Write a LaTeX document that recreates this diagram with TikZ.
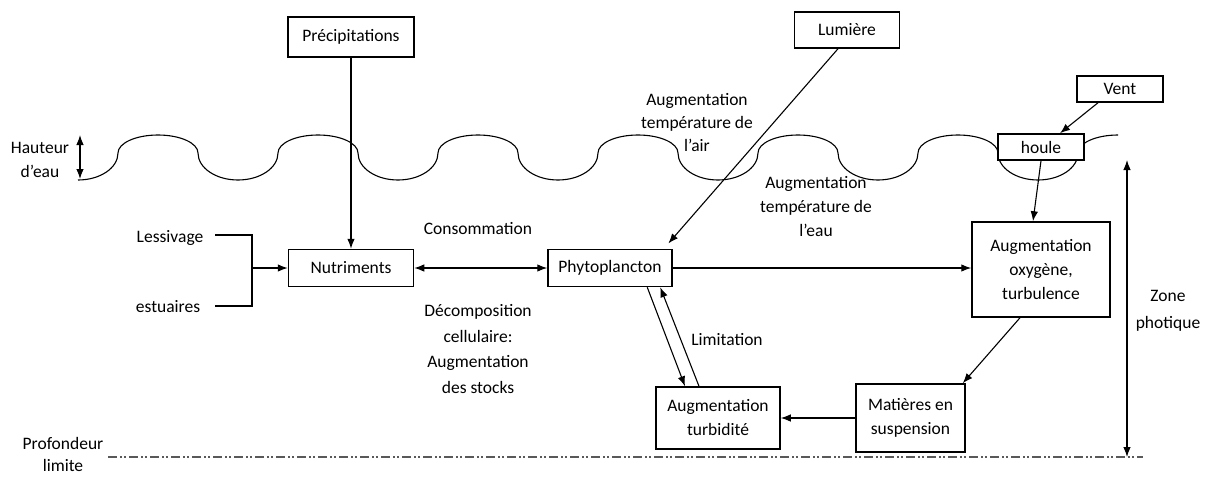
\documentclass[tikz,border=0pt]{standalone}
\usepackage{fontspec}
\setmainfont{Carlito}
\usepackage{tikz}
\usetikzlibrary{arrows.meta}

\begin{document}
\begin{tikzpicture}[x=1pt,y=-1pt,>={Latex[length=10pt,width=7.5pt]},
    font=\fontsize{17.5}{24}\selectfont,
    boite/.style={draw,line width=1.5pt,fill=white,align=center,inner sep=0pt},
    fleche/.style={->,line width=1.1pt},
    texte/.style={align=center,inner sep=0pt}]
            \useasboundingbox (0,0) rectangle (1205,477);
            % surface de l'eau
            \draw[line width=1.1pt] (78,180) arc (90:0:40 and 27)
                \foreach \i in {1,...,6}{ arc (180:360:40 and 18) arc (180:0:40 and 27)}
                arc (180:270:40 and 18);
            \draw[<->,line width=1.1pt] (80,135)--(80,179);
            \node[texte] (haut) at (40,160) {Hauteur\\d'eau};
            % profondeur limite
            \draw[line width=1.2pt,gray!70!black,dash pattern=on 9pt off 3pt on 2pt off 2pt on 2pt off 3pt] (108,457)--(1143,457);
            \node[texte,font=\fontsize{17.5}{22}\selectfont] (prof) at (63,454) {Profondeur\\limite};
            \draw[<->,line width=1.1pt] (1127,160)--(1127,457);
            \node[texte,font=\fontsize{17.5}{27}\selectfont] (zone) at (1168,311) {Zone\\photique};
            % boites
            \node[boite,minimum width=126pt,minimum height=40pt] (prec) at (351,37) {Précipitations};
            \node[boite,minimum width=105pt,minimum height=36pt] (lum) at (847,30) {Lumière};
            \node[boite,minimum width=86pt,minimum height=26pt] (vent) at (1120,89) {\raisebox{-3pt}{Vent}};
            \node[boite,minimum width=86pt,minimum height=26pt] (houle) at (1041,147) {\raisebox{-2pt}{houle}};
            \node[boite,minimum width=125pt,minimum height=37pt] (nut) at (351,268) {Nutriments};
            \node[boite,minimum width=124pt,minimum height=37pt] (phy) at (610,268) {Phytoplancton};
            \node[boite,minimum width=138pt,minimum height=95pt] (oxy) at (1041,269.5) {Augmentation\\oxygène,\\turbulence};
            \node[boite,minimum width=109pt,minimum height=68pt] (mat) at (910.5,418) {Matières en\\suspension};
            \node[boite,minimum width=124pt,minimum height=62pt] (turb) at (718,418) {Augmentation\\turbidité};
            % textes
            \node[texte] (less) at (170,238) {Lessivage};
            \node[texte] (estu) at (168,307) {estuaires};
            \node[texte] (cons) at (478,229) {Consommation};
            \node[texte,font=\fontsize{17.5}{25.5}\selectfont] (deco) at (478,349) {Décomposition\\cellulaire:\\Augmentation\\des stocks};
            \node[texte,font=\fontsize{17.5}{23}\selectfont] (tair) at (697,123) {Augmentation\\température de\\l’air};
            \node[texte] (teau) at (816,207) {Augmentation\\température de\\l’eau};
            \node[texte] (lim) at (727,340) {Limitation};
            % apports lateraux
            \coordinate (la) at (215,235);
            \coordinate (ea) at (215,306);
            \coordinate (bk) at (252,268);
            \draw[line width=1.1pt] (la)-|(bk)|-(ea);
            \draw[fleche] (bk)--(nut.west);
            % fleches
            \draw[fleche] (prec.south)--(nut.north);
            \draw[<->,line width=1.1pt] (nut.east)--(phy.west);
            \draw[fleche,shorten >=7pt] ([xshift=-9pt]lum.south)--([xshift=-9pt]phy.north east);
            \draw[fleche] ([xshift=-22pt]vent.south)--([xshift=19pt]houle.north);
            \draw[fleche] (houle.south)--([xshift=-8pt]oxy.north);
            \draw[fleche] (phy.east)--(phy.east-|oxy.west);
            \draw[fleche] ([xshift=100pt]phy.south west)--([xshift=-33pt]turb.north);
            \draw[fleche] ([xshift=-19pt]turb.north)--([xshift=113pt]phy.south west);
            \draw[fleche] ([xshift=-21pt]oxy.south)--([xshift=-3pt]mat.north east);
            \draw[fleche] (mat.west)--(turb.east);
        \end{tikzpicture}
\end{document}
